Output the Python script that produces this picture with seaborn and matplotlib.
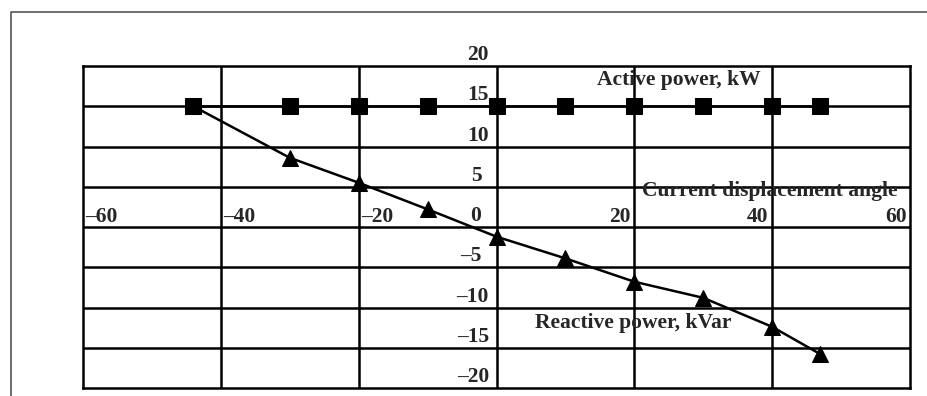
import matplotlib
matplotlib.use("Agg")
import matplotlib.pyplot as plt
import seaborn as sns
import pandas as pd
from matplotlib.lines import Line2D

# data
angle = [-44, -30, -20, -10, 0, 10, 20, 30, 40, 47]
active_kw = [15, 15, 15, 15, 15, 15, 15, 15, 15, 15]
reactive_kvar = [15.0, 8.6, 5.5, 2.2, -1.2, -3.9, -6.8, -8.8, -12.4, -15.8]

x_ticks = [-60, -40, -20, 0, 20, 40, 60]
y_ticks = [20, 15, 10, 5, 0, -5, -10, -15, -20]

sns.set_style("white")
plt.rcParams['font.family'] = ['Liberation Serif', 'DejaVu Serif']
plt.rcParams['font.weight'] = 'bold'

df = pd.DataFrame({'angle': angle, 'active': active_kw, 'reactive': reactive_kvar})

fig = plt.figure(figsize=(9.27, 3.96), dpi=100)
ax = fig.add_axes([83 / 927, 1 - 388 / 396, (910 - 83) / 927, (388 - 66) / 396])

# grid lines drawn by hand so they sit under the series
for v in x_ticks[1:-1]:
    ax.axvline(v, color='black', lw=1.8, zorder=1)
for v in y_ticks[1:-1]:
    ax.axhline(v, color='black', lw=1.8, zorder=1)

sns.lineplot(data=df, x='angle', y='reactive', marker='^', markersize=11,
             color='black', lw=1.8, markeredgecolor='black', ax=ax, zorder=3)
sns.lineplot(data=df, x='angle', y='active', marker='s', markersize=12,
             color='black', lw=1.8, markeredgecolor='black', ax=ax, zorder=4)

ax.set_xlim(-60, 60)
ax.set_ylim(-20, 20)
ax.set_xticks([])
ax.set_yticks([])
ax.set_xlabel('')
ax.set_ylabel('')
for s in ax.spines.values():
    s.set_color('black')
    s.set_linewidth(1.8)

fs = 15.5
# x tick labels just above the zero line
for v in x_ticks:
    if v < 0:
        ax.text(v + 0.3, 1.2, '\u2013' + str(abs(v)), ha='left', va='center', fontsize=fs, fontweight='bold')
    elif v > 0:
        ax.text(v - 0.5, 1.2, str(v), ha='right', va='center', fontsize=fs, fontweight='bold')
# y tick labels left of the zero line
for v in y_ticks:
    lab = str(v) if v >= 0 else '\u2013' + str(abs(v))
    dx = -1.1 if abs(v) >= 10 else -2.2
    ax.text(dx, v + 1.35, lab, ha='right', va='center', fontsize=fs, fontweight='bold', clip_on=False)

ax.text(26.4, 18.2, 'Active power, kW', ha='center', va='center', fontsize=fs, fontweight='bold')
ax.text(39.6, 4.5, 'Current displacement angle', ha='center', va='center', fontsize=fs, fontweight='bold')
ax.text(19.9, -11.9, 'Reactive power, kVar', ha='center', va='center', fontsize=fs, fontweight='bold')

# outer frame, open at right and bottom
fx = 11 / 927
fy = 1 - 12 / 396
fig.add_artist(Line2D([fx, fx, 1.0], [0.0, fy, fy], color='#555555', lw=1.2, transform=fig.transFigure))

fig.savefig('out.png', dpi=100)
